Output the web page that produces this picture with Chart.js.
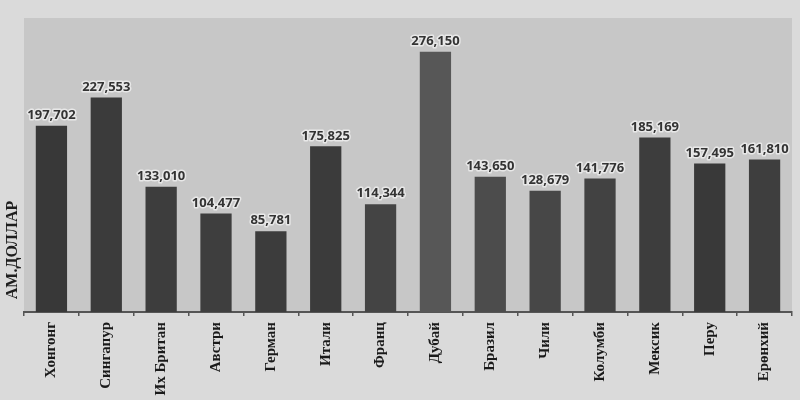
<!DOCTYPE html>
<html>
<head>
<meta charset="utf-8">
<script src="https://cdn.jsdelivr.net/npm/chart.js@4"></script>
<style>
  html, body { margin: 0; padding: 0; background: #dadada; }
  #wrap { width: 800px; height: 400px; }
</style>
</head>
<body>
<div id="wrap"><canvas id="chart" width="800" height="400"></canvas></div>
<script>
const countries = ["Хонгонг", "Сингапур", "Их Британ", "Австри", "Герман", "Итали", "Франц",
  "Дубай", "Бразил", "Чили", "Колумби", "Мексик", "Перу", "Ерөнхий"];
const amounts = [197702, 227553, 133010, 104477, 85781, 175825, 114344,
  276150, 143650, 128679, 141776, 185169, 157495, 161810];
const axisTitle = "АМ.ДОЛЛАР";

// newspaper grey tones, darker on the left, lighter around Dubai
const barColors = ["#383838", "#3b3b3b", "#3d3d3d", "#3e3e3e", "#3c3c3c", "#3b3b3b", "#444444",
  "#575757", "#4c4c4c", "#474747", "#424242", "#3d3d3d", "#393939", "#3e3e3e"];

// grey panel behind the bars + y title low on the left
const panel = {
  id: "panel",
  beforeDraw(chart) {
    const { ctx, chartArea: a } = chart;
    ctx.save();
    ctx.fillStyle = "#c7c7c7";
    ctx.fillRect(a.left, a.top, a.right - a.left, a.bottom - a.top);
    ctx.restore();
  },
  afterDraw(chart) {
    const ctx = chart.ctx;
    ctx.save();
    ctx.translate(13, 250);
    ctx.rotate(-Math.PI / 2);
    ctx.font = "bold 16px 'Liberation Serif'";
    ctx.fillStyle = "#1e1e1e";
    ctx.textAlign = "center";
    ctx.textBaseline = "middle";
    ctx.fillText(axisTitle, 0, 0);
    ctx.restore();
  }
};

// value labels on top of every bar
const valueLabels = {
  id: "valueLabels",
  afterDatasetsDraw(chart) {
    const ctx = chart.ctx;
    const meta = chart.getDatasetMeta(0);
    ctx.save();
    ctx.font = "bold 13px 'Open Sans'";
    ctx.textAlign = "center";
    ctx.textBaseline = "bottom";
    ctx.lineJoin = "round";
    meta.data.forEach((bar, i) => {
      const txt = amounts[i].toLocaleString("en-US");
      ctx.lineWidth = 3;
      ctx.strokeStyle = "rgba(235,235,235,0.9)";
      ctx.strokeText(txt, bar.x, bar.y - 4);
      ctx.fillStyle = "#333333";
      ctx.fillText(txt, bar.x, bar.y - 4);
    });
    ctx.restore();
  }
};

new Chart(document.getElementById("chart"), {
  type: "bar",
  data: {
    labels: countries,
    datasets: [
      {
        data: amounts,
        backgroundColor: barColors,
        borderWidth: 0,
        barPercentage: 0.57,
        categoryPercentage: 1,
      },
    ],
  },
  options: {
    responsive: false,
    animation: false,
    layout: { padding: { left: 24, right: 8, top: 18, bottom: 0 } },
    plugins: {
      legend: { display: false },
      tooltip: { enabled: false },
    },
    scales: {
      x: {
        afterFit: (s) => { s.height = 88; },
        border: { display: true, color: "#555555", width: 2 },
        grid: {
          display: true,
          drawOnChartArea: false,
          drawTicks: true,
          tickLength: 4,
          color: "#555555",
          lineWidth: 1.5,
        },
        ticks: {
          minRotation: 90,
          maxRotation: 90,
          autoSkip: false,
          padding: 6,
          color: "#1a1a1a",
          font: { family: "'Liberation Serif'", size: 15, weight: "bold" },
        },
      },
      y: {
        display: false,
        min: 0,
        max: 312000,
      },
    },
  },
  plugins: [panel, valueLabels],
});
</script>
</body>
</html>
